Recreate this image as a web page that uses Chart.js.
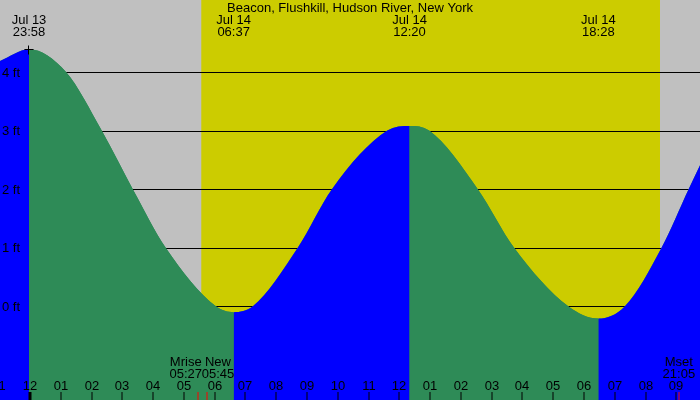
<!DOCTYPE html>
<html>
<head>
<meta charset="utf-8">
<script src="https://cdn.jsdelivr.net/npm/chart.js@4/dist/chart.umd.min.js"></script>
<style>
  html, body { margin: 0; padding: 0; background: #c0c0c0; }
  #wrap { width: 700px; height: 400px; }
</style>
</head>
<body>
<div id="wrap"><canvas id="tide" width="700" height="400"></canvas></div>
<script>
// hours since Jul 14 00:00, heights in feet
const tideHours = [-0.975, -0.033, 1.17, 2.33, 3.34, 4.41, 6.04, 6.617, 7.24, 8.70, 9.81, 11.61, 12.333, 12.97, 14.55, 15.73, 17.49, 18.467, 19.33, 20.52, 21.40, 21.77];
const tideFeet  = [4.19, 4.39, 4.0, 3.0, 2.0, 1.0, 0.0, -0.10, 0.0, 1.0, 2.0, 3.0, 3.08, 3.0, 2.0, 1.0, 0.0, -0.21, 0.0, 1.0, 2.0, 2.41];

// high / low tide labels
const extremeHours = [-0.033, 6.617, 12.333, 18.467];
const extremeFeet  = [4.39, -0.10, 3.08, -0.21];
const extremeDates = ['Jul 13', 'Jul 14', 'Jul 14', 'Jul 14'];
const extremeTimes = ['23:58', '06:37', '12:20', '18:28'];

// sunrise / sunset
const sunHours = [5.565, 20.47];

// moon events
const moonHours = [5.45, 5.75, 21.083];
const moonNames = ['Mrise', 'New', 'Mset'];
const moonTimes = ['05:27', '05:45', '21:05'];

// axis ticks
const hourTicks  = [-1, 0, 1, 2, 3, 4, 5, 6, 7, 8, 9, 10, 11, 12, 13, 14, 15, 16, 17, 18, 19, 20, 21];
const hourLabels = ['11', '12', '01', '02', '03', '04', '05', '06', '07', '08', '09', '10', '11', '12', '01', '02', '03', '04', '05', '06', '07', '08', '09'];
const feetTicks  = [0, 1, 2, 3, 4];
const feetLabels = ['0 ft', '1 ft', '2 ft', '3 ft', '4 ft'];

const FONT = '13px "Liberation Sans", Arial, sans-serif';
const NIGHT = '#c0c0c0';
const DAY = '#cccc00';
const RISING = '#0000ff';
const FALLING = '#2e8b57';

// background bands + grid lines, drawn under the water
const backdropPlugin = {
    id: 'backdrop',
    beforeDatasetsDraw(chart) {
        const ctx = chart.ctx;
        const x = chart.scales.x, y = chart.scales.y;
        const area = chart.chartArea;
        ctx.save();
        ctx.fillStyle = NIGHT;
        ctx.fillRect(area.left, area.top, area.right - area.left, area.bottom - area.top);
        const x0 = x.getPixelForValue(sunHours[0]);
        const x1 = x.getPixelForValue(sunHours[1]);
        ctx.fillStyle = DAY;
        ctx.fillRect(x0, area.top, x1 - x0, area.bottom - area.top);

        ctx.strokeStyle = '#000';
        ctx.lineWidth = 1;
        feetTicks.forEach(v => {
            const py = Math.round(y.getPixelForValue(v)) + 0.5;
            ctx.beginPath();
            ctx.moveTo(area.left, py);
            ctx.lineTo(area.right, py);
            ctx.stroke();
        });
        ctx.restore();
    }
};

// labels, ticks and markers drawn on top
const labelsPlugin = {
    id: 'labels',
    afterDatasetsDraw(chart) {
        const ctx = chart.ctx;
        const x = chart.scales.x, y = chart.scales.y;
        const area = chart.chartArea;
        ctx.save();
        ctx.font = FONT;
        ctx.fillStyle = '#000';
        ctx.textBaseline = 'alphabetic';

        // title
        ctx.textAlign = 'center';
        ctx.fillText('Beacon, Flushkill, Hudson River, New York', 350, 12);

        // tide extremes
        extremeHours.forEach((h, i) => {
            const px = x.getPixelForValue(h);
            ctx.fillText(extremeDates[i], px, 24);
            ctx.fillText(extremeTimes[i], px, 36);
        });

        // + marker on the first high tide
        const mx = Math.round(x.getPixelForValue(extremeHours[0])) - 0.5;
        const my = Math.round(y.getPixelForValue(extremeFeet[0])) + 0.5;
        ctx.strokeStyle = '#000';
        ctx.lineWidth = 1;
        ctx.beginPath();
        ctx.moveTo(mx - 4, my); ctx.lineTo(mx + 5, my);
        ctx.moveTo(mx, my - 4); ctx.lineTo(mx, my + 5);
        ctx.stroke();

        // feet labels
        ctx.textAlign = 'left';
        feetTicks.forEach((v, i) => {
            ctx.fillText(feetLabels[i], 2, y.getPixelForValue(v) + 4.5);
        });

        // hour ticks + labels
        ctx.textAlign = 'center';
        hourTicks.forEach((h, i) => {
            const px = Math.round(x.getPixelForValue(h));
            ctx.fillStyle = '#000';
            ctx.fillText(hourLabels[i], px, 389.5);
            if (h === 0) {
                ctx.fillRect(px - 1.5, 392, 3, area.bottom - 392);
            } else {
                ctx.fillRect(px - 0.5, 392, 1, area.bottom - 392);
            }
        });

        // moon events
        const moonOffsets = [-12, 11, 0];
        moonHours.forEach((h, i) => {
            const px = x.getPixelForValue(h);
            ctx.fillStyle = '#ff0000';
            ctx.fillRect(Math.round(px) - 0.5, 392, 1, area.bottom - 392);
            ctx.fillStyle = '#000';
            ctx.fillText(moonNames[i], px + moonOffsets[i], 366);
            ctx.fillText(moonTimes[i], px + moonOffsets[i], 378);
        });
        ctx.restore();
    }
};

const tidePoints = tideHours.map((h, i) => ({ x: h, y: tideFeet[i] }));

new Chart(document.getElementById('tide'), {
    type: 'line',
    data: {
        datasets: [{
            // rising / falling water, coloured per segment
            data: tidePoints,
            order: 1,
            borderWidth: 0,
            pointRadius: 0,
            fill: 'start',
            backgroundColor: FALLING,
            cubicInterpolationMode: 'monotone',
            tension: 0.4,
            segment: {
                backgroundColor: ctx => ctx.p1.parsed.y > ctx.p0.parsed.y ? RISING : FALLING
            }
        }, {
            // same curve underneath, hides seams between segments
            data: tidePoints,
            order: 2,
            borderWidth: 0,
            pointRadius: 0,
            fill: 'start',
            backgroundColor: FALLING,
            cubicInterpolationMode: 'monotone',
            tension: 0.4
        }]
    },
    options: {
        responsive: false,
        animation: false,
        devicePixelRatio: 1,
        layout: { padding: 0 },
        scales: {
            x: { type: 'linear', min: -0.975, max: 21.77, display: false },
            y: { type: 'linear', min: -1.6, max: 5.23, display: false }
        },
        plugins: {
            legend: { display: false },
            tooltip: { enabled: false }
        }
    },
    plugins: [backdropPlugin, labelsPlugin]
});
</script>
</body>
</html>
